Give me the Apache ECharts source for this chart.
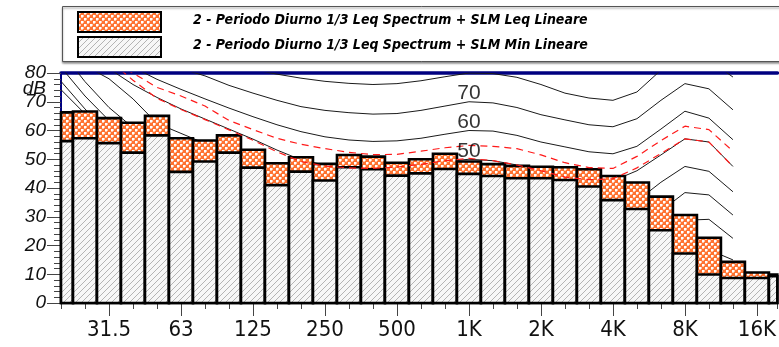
<!DOCTYPE html>
<html>
<head>
<meta charset="utf-8">
<script src="https://cdn.jsdelivr.net/npm/echarts@6/dist/echarts.min.js"></script>
<style>
  html, body { margin: 0; padding: 0; background: #fff; }
  #chart { width: 779px; height: 347px; }
</style>
</head>
<body>
<div id="chart"></div>
<script>
// 1/3 octave bands, 20 Hz .. 20 kHz (index 0..30)
const bands = ['20', '25', '31.5', '40', '50', '63', '80', '100', '125', '160', '200', '250', '315', '400', '500',
  '630', '800', '1K', '1.25K', '1.6K', '2K', '2.5K', '3.15K', '4K', '5K', '6.3K', '8K', '10K', '12.5K', '16K', '20K'];
const tickLabels = { 2: '31.5', 5: '63', 8: '125', 11: '250', 14: '500', 17: '1K', 20: '2K', 23: '4K', 26: '8K', 29: '16K' };

const leqValues = [66.3, 66.6, 64.3, 62.7, 65.1, 57.3, 56.5, 58.3, 53.3, 48.6, 50.7, 48.4, 51.5, 50.9, 48.8,
  50.0, 51.9, 49.2, 48.3, 47.7, 47.4, 47.2, 46.5, 44.2, 41.9, 37.0, 30.6, 22.7, 14.3, 10.6, 9.9];
const minValues = [56.3, 57.3, 55.6, 52.3, 58.3, 45.6, 49.2, 52.3, 47.1, 41.0, 45.7, 42.6, 47.2, 46.5, 44.3,
  45.1, 46.6, 44.9, 44.2, 43.4, 43.4, 42.8, 40.5, 35.8, 32.7, 25.3, 17.2, 9.9, 8.7, 8.7, 9.3];

// isophonic curves, 20 Hz .. 12.5 kHz (index 0..28)
const phon0 = [74.2, 65.8, 57.5, 49.5, 42, 35.5, 29.5, 24, 19.5, 15.5, 12, 9.5, 7.5, 6, 5, 4.2, 3.8, 3.5, 3, 1.5,
  0, -1.5, -2.5, -2.5, 0, 5, 10, 10, 7];
const phon10 = [77.1, 67.5, 59, 51.5, 45, 39.5, 34.5, 30, 26, 22.5, 19.5, 17, 15, 13.5, 12, 11, 10.5, 10, 9.5, 8,
  6.5, 5, 4, 4, 7, 13, 19, 18.5, 15];
const phon20 = [82, 72, 63.5, 56.5, 50.5, 45, 40.5, 36.5, 33, 29.5, 26.5, 24.2, 22.5, 21.3, 20.6, 20.2, 20, 20,
  19.5, 18, 16.5, 15, 14, 14, 17, 23, 28.8, 29.1, 22.5];
const phon30 = [87.5, 77, 68, 61, 55, 50, 46, 42.5, 39.2, 36, 33.2, 31.2, 30, 29.3, 29.2, 29.5, 29.8, 30, 29.5,
  28, 26.5, 24.8, 23.5, 23.3, 26.5, 32, 38.4, 37.6, 30.6];
const phon40 = [86, 82.5, 78, 71, 62.5, 59, 55.5, 51.5, 48, 44.5, 41.5, 39.5, 38.5, 38, 38, 38.6, 39.4, 40, 39.5,
  38, 36.5, 34.5, 33, 32.5, 35.5, 42, 47.5, 45.8, 38.7];
const phon50 = [90, 86, 81.5, 76, 71.5, 67.5, 64, 60.5, 57, 53.2, 49.8, 48, 47.3, 47, 47.2, 48, 49.2, 50, 49.5,
  48, 46.5, 44.5, 43, 42.5, 46, 51.5, 57.1, 56, 47.5];
const phon60 = [92, 89, 86, 82, 77.8, 74.3, 71, 67.8, 64.8, 62, 59.6, 57.8, 56.7, 56.2, 56.4, 57.3, 58.7, 60, 59.8,
  58.3, 56, 54.3, 52.6, 51.9, 54.5, 60.5, 66.7, 64.3, 56.8];
const phon70 = [93, 90, 87.5, 85.5, 83.5, 81.5, 79, 75.7, 73, 70.5, 68.3, 67, 66.2, 65.7, 65.9, 67, 68.5, 70, 69.6,
  68, 65.5, 63.7, 62, 61.3, 64.1, 70.5, 76.3, 74.5, 67.2];
const phon80 = [95, 93, 91, 89, 87.5, 86, 84.5, 83, 81.2, 79.6, 78.2, 77.1, 76.4, 76, 76.3, 77.3, 78.7, 80, 79.8,
  78.5, 76, 73, 71.3, 70.5, 73.4, 81, 86, 84.5, 78.6];
// red dashed curves
const redUpper = [92, 88, 84, 80, 75, 72, 68.5, 63.5, 60.3, 57.3, 55.2, 53.7, 52.4, 51.6, 51.7, 52.8, 54, 54.8,
  54.5, 53.7, 51.5, 48.8, 47.1, 46.8, 51, 56.5, 61.5, 60.3, 52.8];
const redLower = [95, 90, 84.5, 77.5, 71.2, 67.3, 63.8, 60.2, 56.6, 52.6, 49.2, 47.6, 47, 46.8, 47.3, 48.2, 49.5,
  50.3, 49.5, 48, 46, 43.8, 42.9, 43.2, 47, 52, 57.1, 56, 47.5];

const curveLabels = [[17, 70, '70'], [17, 60, '60'], [17, 50, '50']];
const yTicks = [0, 10, 20, 30, 40, 50, 60, 70, 80];
const yUnit = 'dB';

const legendNames = [
  '2 - Periodo Diurno 1/3 Leq Spectrum + SLM Leq Lineare',
  '2 - Periodo Diurno 1/3 Leq Spectrum + SLM Min Lineare'
];

function makeChecker() {
  const c = document.createElement('canvas');
  c.width = 6; c.height = 6;
  const g = c.getContext('2d');
  g.fillStyle = '#ff7230'; g.fillRect(0, 0, 6, 6);
  g.fillStyle = '#ffffff'; g.fillRect(0, 0, 2, 2); g.fillRect(3, 3, 2, 2);
  g.fillStyle = '#ffc4a4'; g.fillRect(2, 0, 1, 2); g.fillRect(0, 2, 2, 1); g.fillRect(5, 3, 1, 2); g.fillRect(3, 5, 2, 1);
  return { image: c, repeat: 'repeat' };
}

function makeHatch() {
  const c = document.createElement('canvas');
  c.width = 6; c.height = 6;
  const g = c.getContext('2d');
  g.fillStyle = '#f7f7f7'; g.fillRect(0, 0, 6, 6);
  g.strokeStyle = '#b4b4b4'; g.lineWidth = 1;
  g.beginPath();
  g.moveTo(-1, 7); g.lineTo(7, -1);
  g.moveTo(-1, 1); g.lineTo(1, -1);
  g.moveTo(5, 7); g.lineTo(7, 5);
  g.stroke();
  return { image: c, repeat: 'repeat' };
}

const checker = makeChecker();
const hatch = makeHatch();

const chart = echarts.init(document.getElementById('chart'), null, { renderer: 'canvas' });

function barItem(params, api) {
  const i = api.value(0);
  const base = api.coord([i - 0.5, 0]);
  const top = api.coord([i + 0.5, api.value(2)]);
  const mid = api.coord([i + 0.5, api.value(1)]);
  const cs = params.coordSys;
  const rLeq = echarts.graphic.clipRectByRect(
    { x: base[0], y: top[1], width: top[0] - base[0], height: base[1] - top[1] }, cs);
  const rMin = echarts.graphic.clipRectByRect(
    { x: base[0], y: mid[1], width: mid[0] - base[0], height: base[1] - mid[1] }, cs);
  const children = [];
  if (rLeq) children.push({ type: 'rect', shape: rLeq, style: { fill: checker, stroke: '#000', lineWidth: 2.6 } });
  if (rMin) children.push({ type: 'rect', shape: rMin, style: { fill: hatch, stroke: '#000', lineWidth: 2.6 } });
  return { type: 'group', children };
}

const toXY = (arr) => arr.map((v, i) => [i, v]);
const blackCurve = (arr) => ({
  type: 'line', data: toXY(arr), showSymbol: false, silent: true, z: 1,
  lineStyle: { color: '#1a1a1a', width: 1 }
});
const redCurve = (arr) => ({
  type: 'line', data: toXY(arr), showSymbol: false, silent: true, z: 4,
  lineStyle: { color: '#ff1a1a', width: 1.2, type: [7, 5] }
});

const fontNarrow = "'DejaVu Sans Condensed', 'Liberation Sans', sans-serif";

const option = {
  animation: false,
  grid: { left: 61, top: 73, right: 0, bottom: 44 },
  xAxis: [
    {
      type: 'value', min: 0, max: 29.85, interval: 1,
      axisLine: { lineStyle: { color: '#000080', width: 1.5 } },
      axisTick: { length: 6, lineStyle: { color: '#444' } },
      axisLabel: { show: false },
      splitLine: { show: false }
    },
    {
      type: 'value', min: 0, max: 29.85, position: 'bottom',
      axisLine: { show: false },
      axisTick: { show: true, length: 13, customValues: Object.keys(tickLabels).map(Number), lineStyle: { color: '#444' } },
      axisLabel: {
        customValues: Object.keys(tickLabels).map(Number),
        formatter: (v) => tickLabels[v] || '',
        margin: 16, color: '#111', fontSize: 22, fontFamily: fontNarrow
      },
      splitLine: { show: false }
    },
    {
      type: 'value', min: 0, max: 29.85, position: 'top',
      axisLine: { lineStyle: { color: '#000080', width: 3.5 } },
      axisTick: { show: false }, axisLabel: { show: false }, splitLine: { show: false }
    }
  ],
  yAxis: {
    type: 'value', min: 0, max: 80, interval: 10,
    axisLine: { show: true, lineStyle: { color: '#000080', width: 2 } },
    axisTick: { show: true, length: 14, lineStyle: { color: '#444' } },
    minorTick: { show: true, splitNumber: 5, length: 7, lineStyle: { color: '#444' } },
    splitLine: { show: false },
    axisLabel: {
      customValues: yTicks,
      showMaxLabel: true, showMinLabel: true,
      margin: 15, color: '#111', fontSize: 19, fontStyle: 'italic', fontFamily: "'Liberation Sans', sans-serif"
    }
  },
  series: [
    blackCurve(phon0), blackCurve(phon10), blackCurve(phon20), blackCurve(phon30), blackCurve(phon40),
    blackCurve(phon50), blackCurve(phon60), blackCurve(phon70), blackCurve(phon80),
    {
      type: 'custom', renderItem: barItem, silent: true, z: 2,
      data: bands.map((b, i) => [i, minValues[i], leqValues[i]])
    },
    redCurve(redUpper), redCurve(redLower),
    {
      type: 'scatter', data: curveLabels, symbolSize: 0, silent: true, z: 5,
      label: {
        show: true, position: 'top', distance: -2, formatter: (p) => p.value[2],
        color: '#000', fontSize: 21, fontFamily: "'Liberation Sans', sans-serif"
      }
    }
  ],
  graphic: [
    {
      type: 'text', right: 779 - 46, top: 79, z: 11,
      style: { text: yUnit, fill: '#111', font: "italic 19px 'Liberation Sans', sans-serif" }
    },
    {
      type: 'rect', left: 62, top: 6, z: 10,
      shape: { width: 740, height: 55 },
      style: { fill: '#fff', stroke: '#555', lineWidth: 1, shadowColor: 'rgba(0,0,0,0.45)', shadowBlur: 2, shadowOffsetY: 1.5 }
    },
    { type: 'rect', left: 77, top: 11, z: 11, shape: { width: 83, height: 20 }, style: { fill: checker, stroke: '#000', lineWidth: 2 } },
    { type: 'rect', left: 77, top: 36, z: 11, shape: { width: 83, height: 20 }, style: { fill: hatch, stroke: '#000', lineWidth: 2 } },
    {
      type: 'text', left: 193, top: 13, z: 11,
      style: { text: legendNames[0], fill: '#000', font: "italic bold 14px 'DejaVu Sans Condensed', 'Liberation Sans', sans-serif" }
    },
    {
      type: 'text', left: 193, top: 38, z: 11,
      style: { text: legendNames[1], fill: '#000', font: "italic bold 14px 'DejaVu Sans Condensed', 'Liberation Sans', sans-serif" }
    }
  ]
};

chart.setOption(option);
</script>
</body>
</html>
